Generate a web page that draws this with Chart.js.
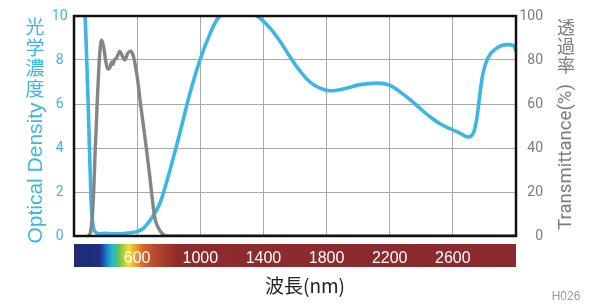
<!DOCTYPE html>
<html><head><meta charset="utf-8">
<script src="https://cdn.jsdelivr.net/npm/chart.js@4.4.1/dist/chart.umd.min.js"></script>
<style>html,body{margin:0;padding:0;background:#fff}canvas{display:block}</style>
</head><body>
<canvas id="c" width="600" height="308"></canvas>
<script>
// ---- data ----
const wavelengthTicks = [600, 1000, 1400, 1800, 2200, 2600];
const odTicks = [0, 2, 4, 6, 8, 10];
const transTicks = [0, 20, 40, 60, 80, 100];

// Blue curve: optical density vs wavelength (nm)
const blueNm = [255, 270, 291, 308, 320, 335, 360, 400, 450, 500, 555, 600, 640, 681, 745, 808, 871, 935, 998, 1062, 1112, 1160, 1250, 1330, 1378, 1442, 1505, 1568, 1632, 1695, 1758, 1822, 1904, 2012, 2119, 2202, 2265, 2329, 2392, 2455, 2519, 2582, 2645, 2696, 2728, 2753, 2772, 2791, 2823, 2880, 2943, 2985, 3000];
const blueOD = [11.2, 10.0, 5.7, 1.6, 0.5, 0.18, 0.1, 0.12, 0.1, 0.1, 0.15, 0.2, 0.35, 0.7, 1.5, 3.0, 4.7, 6.5, 8.0, 9.2, 9.9, 10.1, 10.15, 10.1, 9.9, 9.45, 8.85, 8.15, 7.5, 7.0, 6.72, 6.6, 6.68, 6.88, 6.95, 6.85, 6.55, 6.2, 5.8, 5.42, 5.1, 4.88, 4.68, 4.5, 4.65, 5.4, 6.5, 7.4, 8.1, 8.55, 8.7, 8.65, 8.4];

// Gray curve: transmittance (%) vs wavelength (nm)
const grayNm = [290, 305, 322, 335, 348, 362, 375, 388, 400, 412, 424, 438, 446, 456, 470, 490, 505, 522, 540, 560, 575, 590, 605, 618, 640, 660, 680, 692, 710, 732, 760, 787, 3000];
const grayT = [0, 2, 16, 40, 62, 82, 89, 86, 80, 76, 76, 79, 78, 80, 81, 84, 82, 80, 83, 84, 82, 77, 70, 62, 50, 39, 27, 19.5, 9, 4, 1, 0, 0];

// spectrum bar colour stops (styling)
const spectrumNm = [200, 360, 385, 410, 440, 480, 520, 550, 590, 640, 720, 850, 3000];
const spectrumColor = ['#1f2b72', '#1f2f80', '#1f4fae', '#1a86cc', '#25b6d8', '#5cc06a', '#b9d432', '#f3de2b', '#eea031', '#d9622b', '#b6472e', '#8e2c2c', '#8a2a2e'];

const BLUE = '#3db5e6';
const GRAY = '#858585';

function fitText(ctx, text, family, size, target) {
  ctx.font = size + 'px ' + family;
  const w = ctx.measureText(text).width;
  const s = Math.min(1, target / w);
  return s;
}

const spectrumPlugin = {
  id: 'spectrum',
  beforeDraw(chart) {
    const ctx = chart.ctx, xs = chart.scales.x;
    const x0 = xs.getPixelForValue(200), x1 = xs.getPixelForValue(3000);
    const g = ctx.createLinearGradient(x0, 0, x1, 0);
    spectrumNm.forEach((nm, i) => {
      const p = (xs.getPixelForValue(nm) - x0) / (x1 - x0);
      g.addColorStop(Math.min(1, Math.max(0, p)), spectrumColor[i]);
    });
    ctx.save();
    ctx.fillStyle = g;
    ctx.fillRect(x0, 244, x1 - x0, 23);
    ctx.restore();
  },
  afterDatasetsDraw(chart) {
    const ctx = chart.ctx, a = chart.chartArea;
    ctx.save();
    ctx.strokeStyle = '#111';
    ctx.lineWidth = 2.5;
    ctx.strokeRect(a.left, a.top, a.right - a.left, a.bottom - a.top);
    ctx.restore();
  },
  afterDraw(chart) {
    const ctx = chart.ctx;
    ctx.save();
    ctx.textAlign = 'center';
    ctx.textBaseline = 'middle';
    // left title
    ctx.fillStyle = BLUE;
    ctx.font = '19px "Noto Sans CJK JP"';
    ['光', '学', '濃', '度'].forEach((ch, i) => ctx.fillText(ch, 35, 27 + i * 20.5));
    ctx.save();
    ctx.translate(36, 173);
    ctx.rotate(-Math.PI / 2);
    let s = fitText(ctx, 'Optical Density', '"Liberation Sans"', 21, 146);
    ctx.scale(s, 1);
    ctx.fillText('Optical Density', 0, 0);
    ctx.restore();
    // right title
    ctx.fillStyle = '#7c7c7c';
    ctx.font = '18px "Noto Sans CJK JP"';
    ['透', '過', '率'].forEach((ch, i) => ctx.fillText(ch, 566, 27 + i * 19));
    ctx.save();
    ctx.translate(566, 157);
    ctx.rotate(-Math.PI / 2);
    s = fitText(ctx, 'Transmittance(%)', '"Roboto"', 19, 146);
    ctx.scale(s, 1);
    ctx.fillText('Transmittance(%)', 0, 0);
    ctx.restore();
    // x title
    ctx.fillStyle = '#222';
    ctx.font = '19px "Noto Sans CJK JP"';
    ctx.fillText('波長(nm)', 305, 286);
    // code
    ctx.fillStyle = '#999';
    ctx.font = '12px "Liberation Sans"';
    ctx.fillText('H026', 566, 297);
    ctx.restore();
  }
};

new Chart(document.getElementById('c'), {
  type: 'line',
  data: {
    datasets: [
      {
        data: blueNm.map((x, i) => ({ x, y: blueOD[i] })),
        borderColor: BLUE, borderWidth: 3.6, pointRadius: 0,
        cubicInterpolationMode: 'monotone', yAxisID: 'y', order: 2
      },
      {
        data: grayNm.map((x, i) => ({ x, y: grayT[i] })),
        borderColor: GRAY, borderWidth: 3.4, pointRadius: 0,
        cubicInterpolationMode: 'monotone', yAxisID: 'y2', order: 1
      }
    ]
  },
  options: {
    responsive: false,
    animation: false,
    layout: { padding: { top: 16, right: 57, left: 0, bottom: 0 } },
    plugins: { legend: { display: false }, tooltip: { enabled: false } },
    scales: {
      x: {
        type: 'linear', min: 200, max: 3000,
        afterBuildTicks: s => { s.ticks = wavelengthTicks.map(v => ({ value: v })); },
        afterFit: s => { s.height = 72; },
        grid: { color: '#a9a9a9', lineWidth: 1, drawTicks: false },
        border: { display: false },
        ticks: { color: '#ffffff', padding: 13, maxRotation: 0, callback: v => String(v), font: { family: 'Liberation Sans', size: 16 } }
      },
      y: {
        position: 'left', min: 0, max: 10,
        afterBuildTicks: s => { s.ticks = odTicks.map(v => ({ value: v })); },
        afterFit: s => { s.width = 74; },
        grid: { color: '#a9a9a9', lineWidth: 1, drawTicks: false },
        border: { display: false },
        ticks: { color: BLUE, padding: 6.5, crossAlign: 'center', callback: v => String(v), font: { family: 'Roboto', size: 14 } }
      },
      y2: {
        position: 'right', min: 0, max: 100,
        afterBuildTicks: s => { s.ticks = transTicks.map(v => ({ value: v })); },
        afterFit: s => { s.width = 27; },
        grid: { display: false, drawTicks: false },
        border: { display: false },
        ticks: { color: '#7c7c7c', padding: 5, crossAlign: 'far', callback: v => String(v), font: { family: 'Roboto', size: 14 } }
      }
    }
  },
  plugins: [spectrumPlugin]
});
</script>
</body></html>
